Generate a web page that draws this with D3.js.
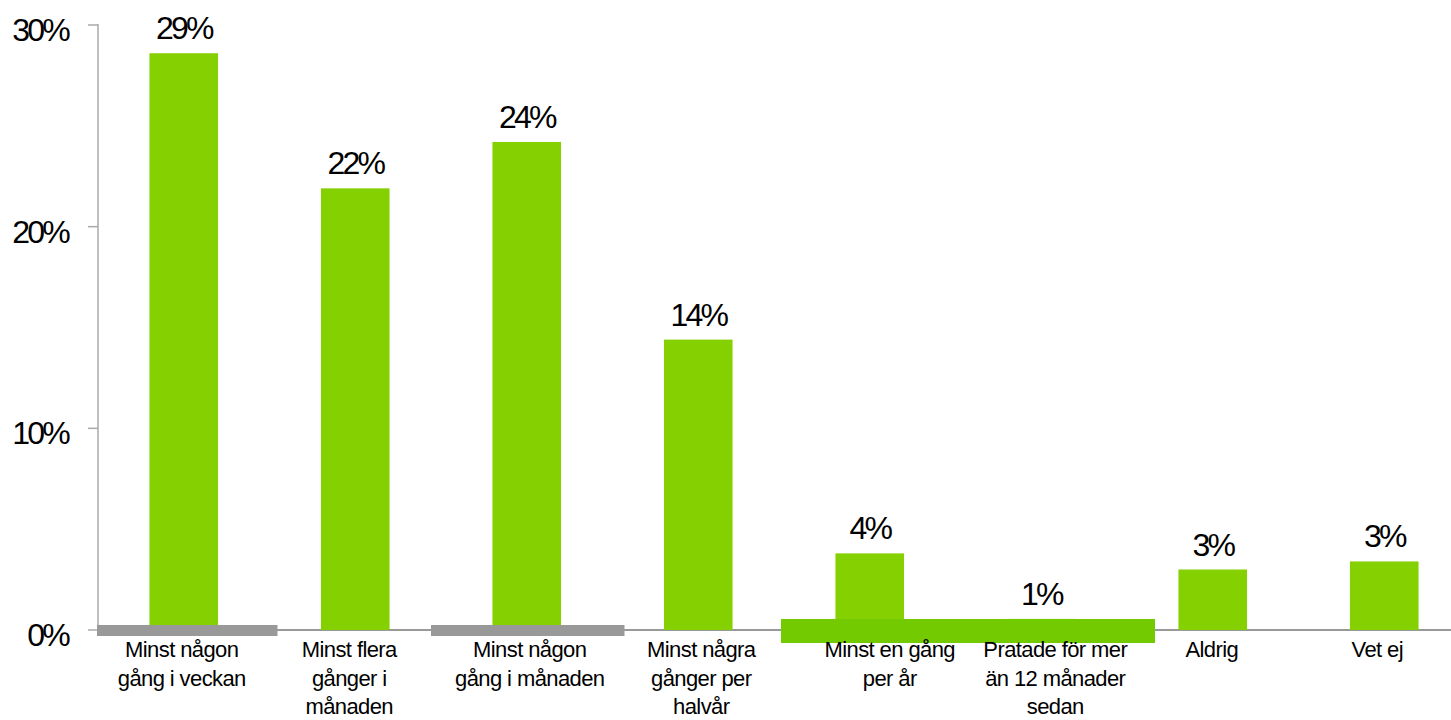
<!DOCTYPE html>
<html>
<head>
<meta charset="utf-8">
<script src="https://cdn.jsdelivr.net/npm/d3@7"></script>
<style>
  html, body { margin: 0; padding: 0; background: #fff; }
  svg { display: block; }
  text { font-family: "Liberation Sans", Arial, sans-serif; fill: #000; }
</style>
</head>
<body>
<svg id="chart" width="1451" height="720"></svg>
<script>
// ---- data ----
const categories = [
  ["Minst någon", "gång i veckan"],
  ["Minst flera", "gånger i", "månaden"],
  ["Minst någon", "gång i månaden"],
  ["Minst några", "gånger per", "halvår"],
  ["Minst en gång", "per år"],
  ["Pratade för mer", "än 12 månader", "sedan"],
  ["Aldrig"],
  ["Vet ej"]
];
const values = [28.6, 21.9, 24.2, 14.4, 3.8, 0.55, 3.0, 3.4];
const yTicks = [0, 10, 20, 30];

// ---- layout constants ----
const labelNudge = [-2, -6, 3, 3, 20, 14, -1, -7];
const svg = d3.select("#chart");
const keys = categories.map((c, i) => i);

const x = d3.scaleBand().domain(keys).range([98, 1470]).paddingInner(0.6).paddingOuter(0.3);
const xFull = d3.scaleBand().domain(keys).range([98, 1470]).padding(0);
const y = d3.scaleLinear().domain([0, 30]).range([630, 25]);

// y axis
const yAxis = svg.append("g");
yAxis.append("line").attr("x1", 98).attr("x2", 98).attr("y1", y(30) - 1).attr("y2", y(0))
  .attr("stroke", "#aaa").attr("stroke-width", 1.5);
yAxis.selectAll(".tick").data(yTicks).join("line")
  .attr("x1", 88).attr("x2", 98).attr("y1", d => y(d)).attr("y2", d => y(d))
  .attr("stroke", "#aaa").attr("stroke-width", 1.5);
yAxis.selectAll(".tl").data(yTicks).join("text")
  .attr("x", 68).attr("y", d => y(d) + 16)
  .attr("text-anchor", "end")
  .style("font-size", "32px").style("letter-spacing", "-2.8px")
  .text(d => d + "%");

// baseline
svg.append("line").attr("x1", 98).attr("x2", 1451).attr("y1", y(0)).attr("y2", y(0))
  .attr("stroke", "#999").attr("stroke-width", 2);

// bars
svg.selectAll(".bar").data(values).join("rect")
  .attr("x", (d, i) => x(i)).attr("width", x.bandwidth())
  .attr("y", d => y(d)).attr("height", d => y(0) - y(d))
  .attr("fill", "#84d000");

// decorative strips over the baseline
const s = xFull.step();
svg.append("rect").attr("x", xFull(0) - 1).attr("width", s + 9)
  .attr("y", y(0) - 5).attr("height", 11).attr("fill", "#999");
svg.append("rect").attr("x", xFull(2) - 10).attr("width", s + 22)
  .attr("y", y(0) - 5).attr("height", 11).attr("fill", "#999");
svg.append("rect").attr("x", xFull(4) - 3).attr("width", 2 * s + 31)
  .attr("y", y(0) - 11).attr("height", 24).attr("fill", "#73ca00");

// value labels
svg.selectAll(".vl").data(values).join("text")
  .attr("x", (d, i) => x(i) + x.bandwidth() / 2)
  .attr("y", d => y(d) - 14)
  .attr("text-anchor", "middle")
  .style("font-size", "32px").style("letter-spacing", "-2.8px")
  .text(d => Math.round(d) + "%");

// category labels
const cl = svg.selectAll(".cl").data(categories).join("text")
  .attr("text-anchor", "middle")
  .style("font-size", "22px").style("letter-spacing", "-0.6px");
cl.each(function(lines, i) {
  const cx = x(i) + x.bandwidth() / 2 + labelNudge[i];
  d3.select(this).selectAll("tspan").data(lines).join("tspan")
    .attr("x", cx).attr("y", (d, j) => 657 + j * 28.5)
    .text(d => d);
});
</script>
</body>
</html>
